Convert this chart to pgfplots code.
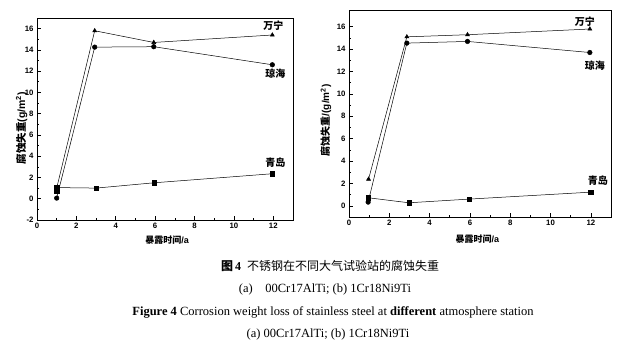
\documentclass[border=0pt]{standalone}
\usepackage{fontspec}
\usepackage{pgfplots}
\pgfplotsset{compat=1.18}
\setmainfont{Liberation Serif}
\setsansfont{Liberation Sans}
\newfontfamily\cjk{Noto Sans CJK SC}
\tikzset{lab/.style={font=\cjk\bfseries\fontsize{10}{11}\selectfont}}
\pgfplotsset{
  myax/.style={
    scale only axis, anchor=south west,
    xmin=0, xmax=13, xtick={0,2,...,12},
    minor x tick num=1, minor y tick num=1,
    tick align=inside, xtick pos=left, ytick pos=left,
    tick style={black, line width=0.6pt},
    major tick length=4pt, minor tick length=2pt,
    axis line style={line width=0.8pt},
    tick label style={font=\sffamily\bfseries\fontsize{7.8}{8}\selectfont},
    /pgf/number format/assume math mode=true,
    every axis plot/.append style={black, line width=0.5pt, mark size=2.3pt},
  },
  tri/.style={mark=triangle*, mark options={fill=black, solid}},
  cir/.style={mark=*, mark options={fill=black, solid}},
  squ/.style={mark=square*, mark options={fill=black, solid}, mark size=2.1pt},
}
\begin{document}
\begin{tikzpicture}
\useasboundingbox (0pt,0pt) rectangle (630pt,355pt);
% (a)
\begin{axis}[myax, at={(37pt,135pt)}, width=256pt, height=202pt,
  ymin=-2, ymax=17, ytick={-2,0,...,16},
  xlabel={{\cjk\bfseries 暴露时间}{\sffamily\bfseries /a}},
  ylabel={{\cjk\bfseries 腐蚀失重}{\sffamily\bfseries (g/m\textsuperscript{2})}},
  xlabel style={at={(axis description cs:0.508,-0.099)}, anchor=center, font=\fontsize{9}{10}\selectfont},
  ylabel style={at={(axis description cs:-0.06,0.455)}, anchor=center, font=\fontsize{10.5}{11}\selectfont},
]
\addplot[tri] coordinates {(1,1.0) (2.93,15.8) (5.93,14.7) (11.95,15.4)};
\addplot[cir] coordinates {(1,0.06) (2.93,14.26) (5.93,14.3) (11.95,12.6)};
\addplot[squ] coordinates {(1,0.75) (1,1.05) (3,1.0) (5.95,1.5) (11.95,2.35)};
\node[lab] at (axis cs:12.0,16.3) {万宁};
\node[lab] at (axis cs:12.1,11.8) {琼海};
\node[lab] at (axis cs:12.1,3.4) {青岛};
\end{axis}
% (b)
\begin{axis}[myax, at={(349pt,138pt)}, width=262pt, height=207pt,
  ymin=-1, ymax=17.5, ytick={0,2,...,16},
  xlabel={{\cjk\bfseries 暴露时间}{\sffamily\bfseries /a}},
  ylabel={{\cjk\bfseries 腐蚀失重}{\sffamily\bfseries /(g/m\textsuperscript{2})}},
  xlabel style={at={(axis description cs:0.49,-0.107)}, anchor=center, font=\fontsize{9}{10}\selectfont},
  ylabel style={at={(axis description cs:-0.088,0.467)}, anchor=center, font=\fontsize{10}{11}\selectfont},
]
\addplot[tri] coordinates {(0.97,2.38) (2.87,15.1) (5.88,15.29) (11.95,15.8)};
\addplot[cir] coordinates {(0.95,0.33) (2.87,14.54) (5.88,14.69) (11.95,13.7)};
\addplot[squ] coordinates {(0.95,0.72) (2.97,0.27) (5.97,0.6) (12,1.22)};
\node[lab] at (axis cs:11.7,16.5) {万宁};
\node[lab] at (axis cs:12.2,12.5) {琼海};
\node[lab] at (axis cs:12.35,2.2) {青岛};
\end{axis}
% caption
\node[font=\fontsize{12}{13}\selectfont] at (330pt,89pt) {{\cjk\bfseries 图}\,\textbf{4}\enspace{\cjk 不锈钢在不同大气试验站的腐蚀失重}};
\node[font=\fontsize{12.5}{13}\selectfont] at (325pt,65pt) {(a)\quad 00Cr17AlTi; (b) 1Cr18Ni9Ti};
\node[font=\fontsize{12.5}{13}\selectfont] at (333pt,43pt) {\textbf{Figure 4} Corrosion weight loss of stainless steel at \textbf{different} atmosphere station};
\node[font=\fontsize{12.5}{13}\selectfont] at (328pt,20pt) {(a) 00Cr17AlTi; (b) 1Cr18Ni9Ti};
\end{tikzpicture}
\end{document}
